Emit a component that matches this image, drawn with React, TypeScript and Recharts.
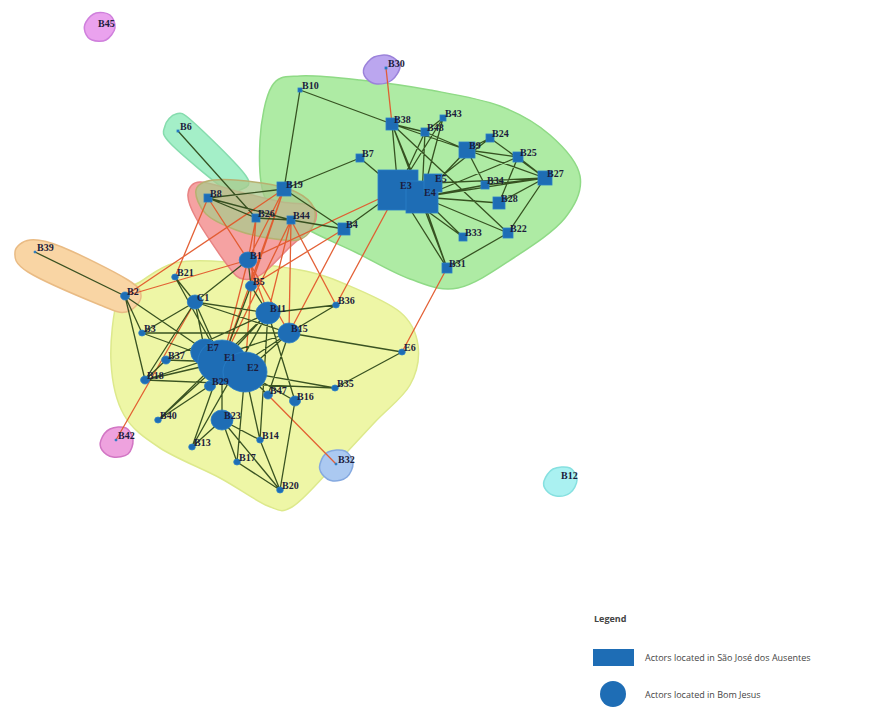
import React from 'react';
import { ScatterChart, Scatter, XAxis, YAxis, Legend } from 'recharts';

type Kind = 'S' | 'C';
interface Node { id: string; x: number; y: number; kind: Kind; deg: number; }

// Actors in São José dos Ausentes (squares)
const saoJoseNodes: Node[] = [
  { id: 'B10', x: 300, y: 90, kind: 'S', deg: 2 },
  { id: 'B38', x: 392, y: 124, kind: 'S', deg: 6 },
  { id: 'B48', x: 425, y: 132, kind: 'S', deg: 4 },
  { id: 'B43', x: 443, y: 118, kind: 'S', deg: 3 },
  { id: 'B24', x: 490, y: 138, kind: 'S', deg: 4 },
  { id: 'B9', x: 467, y: 150, kind: 'S', deg: 8 },
  { id: 'B25', x: 518, y: 157, kind: 'S', deg: 5 },
  { id: 'B27', x: 545, y: 178, kind: 'S', deg: 7 },
  { id: 'B7', x: 360, y: 158, kind: 'S', deg: 4 },
  { id: 'E3', x: 398, y: 190, kind: 'S', deg: 20 },
  { id: 'E4', x: 422, y: 197, kind: 'S', deg: 16 },
  { id: 'E5', x: 433, y: 183, kind: 'S', deg: 9 },
  { id: 'B34', x: 485, y: 185, kind: 'S', deg: 4 },
  { id: 'B28', x: 499, y: 203, kind: 'S', deg: 6 },
  { id: 'B33', x: 463, y: 237, kind: 'S', deg: 4 },
  { id: 'B22', x: 508, y: 233, kind: 'S', deg: 5 },
  { id: 'B31', x: 447, y: 268, kind: 'S', deg: 5 },
  { id: 'B19', x: 284, y: 189, kind: 'S', deg: 7 },
  { id: 'B4', x: 344, y: 229, kind: 'S', deg: 6 },
  { id: 'B44', x: 291, y: 220, kind: 'S', deg: 4 },
  { id: 'B26', x: 256, y: 218, kind: 'S', deg: 4 },
  { id: 'B8', x: 208, y: 198, kind: 'S', deg: 4 },
  { id: 'B6', x: 178, y: 131, kind: 'S', deg: 1 },
  { id: 'B30', x: 386, y: 68, kind: 'S', deg: 1 },
];

// Actors in Bom Jesus (circles)
const bomJesusNodes: Node[] = [
  { id: 'B45', x: 96, y: 28, kind: 'C', deg: 0 },
  { id: 'B39', x: 35, y: 252, kind: 'C', deg: 1 },
  { id: 'B2', x: 125, y: 296, kind: 'C', deg: 4 },
  { id: 'B21', x: 175, y: 277, kind: 'C', deg: 3 },
  { id: 'C1', x: 195, y: 302, kind: 'C', deg: 7 },
  { id: 'B1', x: 248, y: 260, kind: 'C', deg: 8 },
  { id: 'B5', x: 251, y: 286, kind: 'C', deg: 5 },
  { id: 'B11', x: 268, y: 313, kind: 'C', deg: 11 },
  { id: 'B15', x: 289, y: 333, kind: 'C', deg: 10 },
  { id: 'B36', x: 336, y: 305, kind: 'C', deg: 3 },
  { id: 'E6', x: 402, y: 352, kind: 'C', deg: 3 },
  { id: 'B35', x: 335, y: 388, kind: 'C', deg: 3 },
  { id: 'B16', x: 295, y: 401, kind: 'C', deg: 5 },
  { id: 'B47', x: 268, y: 395, kind: 'C', deg: 4 },
  { id: 'B14', x: 260, y: 440, kind: 'C', deg: 3 },
  { id: 'B17', x: 237, y: 462, kind: 'C', deg: 3 },
  { id: 'B20', x: 280, y: 490, kind: 'C', deg: 3 },
  { id: 'B13', x: 192, y: 447, kind: 'C', deg: 3 },
  { id: 'B23', x: 222, y: 420, kind: 'C', deg: 10 },
  { id: 'B40', x: 158, y: 420, kind: 'C', deg: 3 },
  { id: 'B18', x: 145, y: 380, kind: 'C', deg: 4 },
  { id: 'B37', x: 166, y: 360, kind: 'C', deg: 4 },
  { id: 'B3', x: 142, y: 333, kind: 'C', deg: 3 },
  { id: 'B29', x: 210, y: 386, kind: 'C', deg: 5 },
  { id: 'E7', x: 205, y: 352, kind: 'C', deg: 13 },
  { id: 'E1', x: 222, y: 362, kind: 'C', deg: 22 },
  { id: 'E2', x: 245, y: 372, kind: 'C', deg: 20 },
  { id: 'B42', x: 116, y: 440, kind: 'C', deg: 1 },
  { id: 'B32', x: 336, y: 464, kind: 'C', deg: 1 },
  { id: 'B12', x: 559, y: 480, kind: 'C', deg: 0 },
];

// ties inside communities (dark green)
const innerTies: [string, string][] = [
  ['B10', 'B19'], ['B10', 'B38'], ['B38', 'E3'], ['B38', 'E4'], ['B38', 'B48'], ['B38', 'B9'], ['B38', 'B22'],
  ['B48', 'E3'], ['B48', 'E4'], ['B48', 'B43'], ['B43', 'E4'], ['B43', 'E3'], ['B48', 'B9'], ['B9', 'E4'],
  ['B9', 'B24'], ['B9', 'B25'], ['B9', 'B27'], ['B24', 'B27'], ['B25', 'B27'], ['B25', 'B28'], ['B25', 'E4'],
  ['B27', 'E4'], ['B27', 'B34'], ['B27', 'B28'], ['B27', 'B22'], ['B34', 'E4'], ['B28', 'E4'], ['B22', 'E4'],
  ['B22', 'B31'], ['B33', 'E4'], ['B33', 'E3'], ['B31', 'E3'], ['B31', 'E4'], ['B7', 'E3'], ['B7', 'B19'],
  ['B19', 'B4'], ['B4', 'E3'], ['B19', 'B8'], ['B8', 'B44'], ['B8', 'B26'], ['B26', 'B44'], ['B44', 'B4'],
  ['B6', 'B26'], ['E5', 'B27'], ['E5', 'B24'], ['B9', 'B34'], ['B38', 'B31'],
  ['B39', 'B2'], ['B2', 'B3'], ['B2', 'B18'], ['B2', 'E1'], ['B21', 'C1'], ['C1', 'E7'], ['C1', 'B3'],
  ['C1', 'B11'], ['C1', 'B15'], ['C1', 'B18'], ['C1', 'E1'], ['B3', 'E1'], ['B3', 'B15'], ['B37', 'E1'],
  ['B37', 'B18'], ['B18', 'E1'], ['B18', 'B15'], ['B18', 'B35'], ['B40', 'E1'], ['B40', 'B11'], ['B13', 'E1'],
  ['B13', 'B23'], ['B23', 'E1'], ['B23', 'B20'], ['B17', 'E2'], ['B17', 'B20'], ['B14', 'E2'], ['B14', 'B20'],
  ['B20', 'B16'], ['B47', 'E2'], ['B16', 'E2'], ['B35', 'E2'], ['B35', 'E6'], ['E6', 'B15'], ['B15', 'B36'],
  ['B11', 'B36'], ['B11', 'E1'], ['B15', 'E2'], ['B5', 'E1'], ['B5', 'B11'], ['B1', 'B5'], ['B29', 'E1'],
  ['B16', 'B11'], ['B47', 'B15'], ['B17', 'B23'], ['B14', 'B23'], ['B40', 'B15'], ['B1', 'C1'], ['B21', 'E1'],
  ['B37', 'B11'], ['B13', 'B11'], ['B14', 'B11'],
];

// ties between communities (red / orange)
const bridgeTies: [string, string][] = [
  ['B30', 'B38'], ['B19', 'E1'], ['B1', 'E3'], ['B44', 'B11'], ['B44', 'E1'], ['B4', 'B15'], ['B4', 'B5'],
  ['E3', 'B36'], ['B31', 'E6'], ['B8', 'B21'], ['B2', 'B1'], ['B2', 'B19'], ['B42', 'C1'], ['B32', 'B47'],
  ['B1', 'B11'], ['B1', 'E1'], ['B1', 'B15'], ['B26', 'E2'], ['B44', 'B15'], ['B44', 'B36'], ['B19', 'B1'],
  ['B8', 'B1'], ['B26', 'B1'], ['B19', 'B5'],
];

// community hull outlines (vertices in chart units)
const hullGreen: [number, number][] = [
  [272, 86], [300, 76], [360, 80], [430, 90], [500, 106], [550, 135], [580, 176], [565, 218], [515, 257],
  [458, 288], [410, 279], [355, 252], [305, 228], [266, 200], [260, 140],
];
const hullYellow: [number, number][] = [
  [118, 298], [140, 282], [175, 263], [230, 262], [300, 270], [345, 284], [400, 312], [418, 345], [410, 385],
  [375, 422], [330, 470], [292, 507], [268, 506], [220, 478], [160, 448], [124, 415], [111, 362],
];
const hullRed: [number, number][] = [
  [188, 194], [200, 182], [240, 192], [282, 202], [312, 206], [314, 224], [290, 247], [262, 274], [243, 279],
  [228, 266], [196, 218],
];
const hullB6: [number, number][] = [
  [165, 126], [176, 114], [192, 121], [246, 176], [240, 190], [226, 190], [170, 143],
];
const hullOlive: [number, number][] = [
  [196, 190], [214, 180], [262, 183], [296, 192], [314, 208], [312, 228], [298, 240], [268, 238], [236, 230],
  [206, 214],
];
const hullOrange: [number, number][] = [
  [15, 252], [30, 240], [62, 247], [128, 280], [141, 297], [126, 312], [100, 305], [28, 272],
];
const hullB45: [number, number][] = [[86, 22], [96, 13], [110, 15], [115, 28], [106, 40], [92, 40], [85, 32]];
const hullB30: [number, number][] = [[364, 68], [374, 57], [390, 56], [400, 66], [392, 80], [377, 84], [366, 78]];
const hullB42: [number, number][] = [[101, 440], [110, 429], [126, 428], [133, 440], [128, 454], [113, 457], [102, 450]];
const hullB32: [number, number][] = [[320, 464], [328, 452], [345, 451], [353, 463], [347, 477], [333, 481], [322, 474]];
const hullB12: [number, number][] = [[544, 481], [553, 469], [570, 468], [577, 480], [570, 493], [556, 496], [546, 490]];

const legendTitle = 'Legend';
const legendLabels = ['Actors located in São José dos Ausentes', 'Actors located in Bom Jesus'];

const BLUE = '#1e6db5';
const allNodes = [...saoJoseNodes, ...bomJesusNodes];
const nodeMap: Record<string, Node> = Object.fromEntries(allNodes.map((n) => [n.id, n]));

const toPts = (h: [number, number][]) => h.map(([x, y]) => ({ x, y }));
const tiePts = (ties: [string, string][]) =>
  ties.flatMap(([a, b]) => [{ x: nodeMap[a].x, y: nodeMap[a].y }, { x: nodeMap[b].x, y: nodeMap[b].y }]);

function closedCR(pts: { x: number; y: number }[]) {
  const n = pts.length;
  if (!pts || n < 3) return '';
  let d = `M${pts[0].x},${pts[0].y}`;
  for (let i = 0; i < n; i++) {
    const p0 = pts[(i - 1 + n) % n], p1 = pts[i], p2 = pts[(i + 1) % n], p3 = pts[(i + 2) % n];
    const c1x = p1.x + (p2.x - p0.x) / 6, c1y = p1.y + (p2.y - p0.y) / 6;
    const c2x = p2.x - (p3.x - p1.x) / 6, c2y = p2.y - (p3.y - p1.y) / 6;
    d += ` C${c1x},${c1y} ${c2x},${c2y} ${p2.x},${p2.y}`;
  }
  return d + 'Z';
}

const hullLine = (fill: string, stroke: string, opacity = 1) => (p: any) => (
  <path d={closedCR(p.points || [])} fill={fill} fillOpacity={opacity} stroke={stroke} strokeWidth={1.5} />
);

const segLine = (stroke: string, width: number) => (p: any) => {
  const pts = p.points || [];
  let d = '';
  for (let i = 0; i + 1 < pts.length; i += 2) d += `M${pts[i].x},${pts[i].y}L${pts[i + 1].x},${pts[i + 1].y}`;
  return <path d={d} fill="none" stroke={stroke} strokeWidth={width} strokeOpacity={0.95} />;
};

const Empty = () => <g />;

const NodeSymbol = (props: any) => {
  const { cx, cy, payload } = props;
  const r = payload.deg;
  if (!r) return <g />;
  if (payload.kind === 'S')
    return <rect x={cx - r} y={cy - r} width={2 * r} height={2 * r} fill={BLUE} stroke="#2a7fc8" strokeWidth={0.8} />;
  return <ellipse cx={cx} cy={cy} rx={r * 1.1} ry={r} fill={BLUE} stroke="#2a7fc8" strokeWidth={0.8} />;
};

const NodeLabel = (props: any) => {
  const { cx, cy, payload } = props;
  return (
    <text x={cx + 2} y={cy - 1} fontFamily="'Liberation Serif', serif" fontWeight="bold" fontSize={10} fill="#1c1c3c">
      {payload.id}
    </text>
  );
};

const LegendBox = () => (
  <div style={{ fontFamily: "'Open Sans', 'Liberation Sans', sans-serif", fontSize: 9, color: '#444', width: 290 }}>
    <div style={{ fontWeight: 'bold', marginLeft: 9, marginBottom: 22 }}>{legendTitle}</div>
    <div style={{ display: 'flex', alignItems: 'center', height: 20, marginBottom: 13 }}>
      <svg width={60} height={20}>
        <rect x={8} y={2} width={41} height={17} fill={BLUE} />
      </svg>
      <span>{legendLabels[0]}</span>
    </div>
    <div style={{ display: 'flex', alignItems: 'center', height: 28 }}>
      <svg width={60} height={28}>
        <circle cx={28} cy={14} r={13} fill={BLUE} />
      </svg>
      <span>{legendLabels[1]}</span>
    </div>
  </div>
);

export default function App() {
  return (
    <div style={{ position: 'absolute', left: 0, top: 0, background: '#fff' }}>
      <ScatterChart width={876} height={708} margin={{ top: 0, right: 0, bottom: 0, left: 0 }}>
        <XAxis type="number" dataKey="x" domain={[0, 876]} allowDataOverflow hide />
        <YAxis type="number" dataKey="y" domain={[0, 708]} reversed allowDataOverflow hide />
        <Scatter data={toPts(hullGreen)} line={hullLine('#aeeba4', '#8fda86')} shape={Empty} isAnimationActive={false} />
        <Scatter data={toPts(hullYellow)} line={hullLine('#eef6a6', '#dde98c')} shape={Empty} isAnimationActive={false} />
        <Scatter data={toPts(hullB6)} line={hullLine('#a4efc8', '#86dcae')} shape={Empty} isAnimationActive={false} />
        <Scatter data={toPts(hullRed)} line={hullLine('#f5a2a2', '#e88484')} shape={Empty} isAnimationActive={false} />
        <Scatter data={toPts(hullOlive)} line={hullLine('#a9c98c', '#b8b070', 0.75)} shape={Empty} isAnimationActive={false} />
        <Scatter data={toPts(hullOrange)} line={hullLine('#f9d5a4', '#e9bb84')} shape={Empty} isAnimationActive={false} />
        <Scatter data={toPts(hullB45)} line={hullLine('#eaa2ee', '#cf80dc')} shape={Empty} isAnimationActive={false} />
        <Scatter data={toPts(hullB30)} line={hullLine('#bba6ef', '#9b82da')} shape={Empty} isAnimationActive={false} />
        <Scatter data={toPts(hullB42)} line={hullLine('#eea2de', '#d276c4')} shape={Empty} isAnimationActive={false} />
        <Scatter data={toPts(hullB32)} line={hullLine('#abc9f1', '#85a9e0')} shape={Empty} isAnimationActive={false} />
        <Scatter data={toPts(hullB12)} line={hullLine('#aaf1f1', '#86e0e0')} shape={Empty} isAnimationActive={false} />
        <Scatter data={tiePts(bridgeTies)} line={segLine('#e2582c', 1.3)} shape={Empty} isAnimationActive={false} />
        <Scatter data={tiePts(innerTies)} line={segLine('#2f4a1a', 1.3)} shape={Empty} isAnimationActive={false} />
        <Scatter data={allNodes} shape={NodeSymbol} isAnimationActive={false} />
        <Scatter data={allNodes} shape={NodeLabel} isAnimationActive={false} />
        <Legend
          layout="vertical"
          align="center"
          verticalAlign="middle"
          content={() => <LegendBox />}
          wrapperStyle={{ position: 'absolute', left: 585, top: 612, right: 'auto', bottom: 'auto', width: 290 }}
        />
      </ScatterChart>
    </div>
  );
}
